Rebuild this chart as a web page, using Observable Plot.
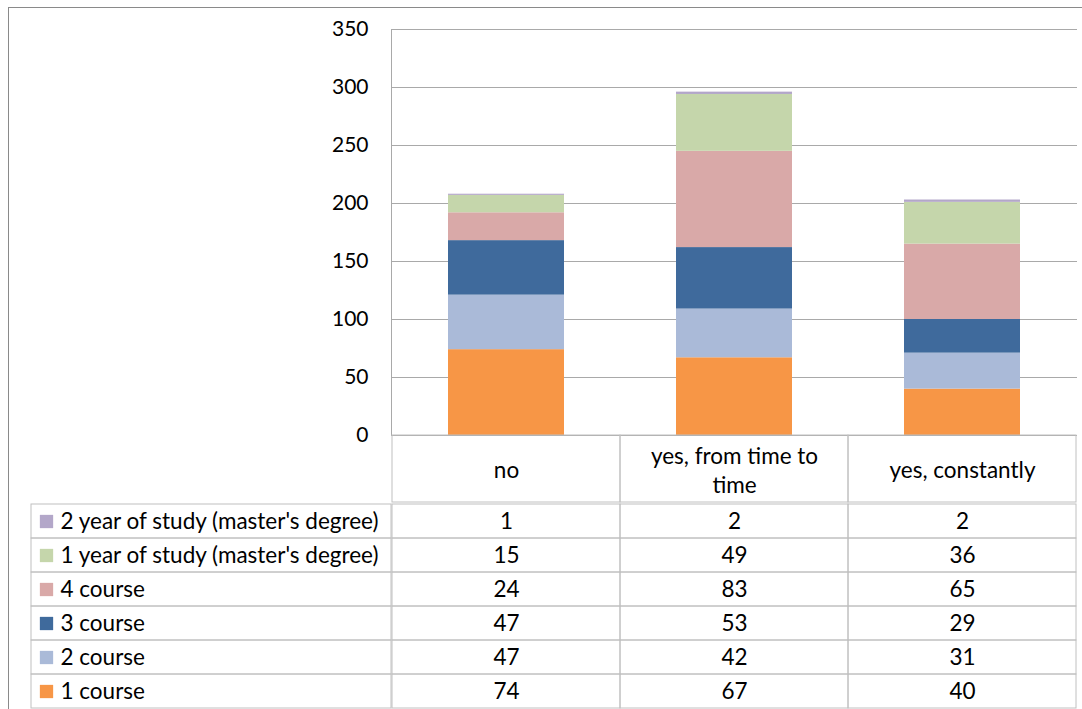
<!DOCTYPE html>
<html>
<head>
<meta charset="utf-8">
<script src="https://cdn.jsdelivr.net/npm/d3@7"></script>
<script src="https://cdn.jsdelivr.net/npm/@observablehq/plot@0.6"></script>
<style>
  html, body { margin: 0; padding: 0; background: #fff; overflow: hidden; }
  #wrap { position: relative; width: 1082px; height: 709px; overflow: hidden; }
  #border { position: absolute; left: 8px; top: 7px; width: 1200px; height: 900px;
            border: 1px solid #8a8a8a; box-sizing: border-box; pointer-events: none; }
  #wrap svg { display: block; }
</style>
</head>
<body>
<div id="wrap"><div id="border"></div><div id="chart"></div></div>
<script>
// Survey answers, broken down by year of study
const categories = ["no", "yes, from time to time", "yes, constantly"];
const series = [
  "1 course",
  "2 course",
  "3 course",
  "4 course",
  "1 year of study (master's degree)",
  "2 year of study (master's degree)"
];
const course1 = [74, 67, 40];
const course2 = [47, 42, 31];
const course3 = [47, 53, 29];
const course4 = [24, 83, 65];
const master1 = [15, 49, 36];
const master2 = [1, 2, 2];
const palette = ["#f79646", "#aabad8", "#3f6a9c", "#d9a9a8", "#c5d6ab", "#b3a7c9"];
const yTicks = [0, 50, 100, 150, 200, 250, 300, 350];

const seriesValues = [course1, course2, course3, course4, master1, master2];
const records = [];
series.forEach((s, i) => {
  categories.forEach((c, j) => records.push({series: s, category: c, value: seriesValues[i][j]}));
});

// Layout
const W = 1082;
const left = 391, right = 5;
const plotTop = 29, plotBottom = 435, headerH = 67;
const plotH = plotBottom - plotTop;
const plotW = W - left - right;
const legendLeft = 31;
const FONT = "Lato, 'Open Sans', sans-serif";
const textSize = 22.5;
const tickSize = 21;
const gridColor = "#a9a9a9";
const cellColor = "#c0c0c0";

const colorScale = {domain: series, range: palette};

const chart = Plot.plot({
  width: W,
  height: plotBottom + headerH,
  marginTop: plotTop,
  marginRight: right,
  marginBottom: headerH,
  marginLeft: left,
  style: {fontFamily: FONT, fontSize: textSize + "px", color: "#000", background: "transparent", overflow: "visible"},
  x: {domain: categories, padding: 0, axis: null},
  y: {domain: [0, 350], axis: null},
  color: colorScale,
  marks: [
    Plot.gridY(yTicks, {stroke: gridColor, strokeOpacity: 1}),
    Plot.barY(records, {x: "category", y: "value", fill: "series", insetLeft: 56, insetRight: 56}),
    Plot.axisY(yTicks, {tickSize: 0, tickPadding: 23, fontSize: tickSize, label: null, fill: "#000"}),
    Plot.frame({anchor: "left", stroke: gridColor}),
    // header row of the data table
    Plot.cell(categories, {x: d => d, fill: "none", stroke: cellColor, insetTop: plotH, insetBottom: -headerH, insetLeft: 0, insetRight: 0}),
    Plot.text(categories, {x: d => d, text: d => d, frameAnchor: "bottom", dy: headerH / 2, lineWidth: 9, lineHeight: 1.3, lineAnchor: "middle", fontSize: textSize, fill: "#000"})
  ]
});

const rowOrder = series.slice().reverse();
const table = Plot.plot({
  width: W,
  height: 709 - plotBottom - headerH,
  marginTop: 0,
  marginRight: right,
  marginBottom: 0,
  marginLeft: left,
  style: {fontFamily: FONT, fontSize: textSize + "px", color: "#000", background: "transparent", overflow: "visible"},
  x: {domain: categories, padding: 0, axis: null},
  y: {domain: rowOrder, padding: 0, axis: null},
  color: colorScale,
  marks: [
    // legend column
    Plot.cell(rowOrder, {y: d => d, fill: "none", stroke: cellColor, insetLeft: -(left - legendLeft), insetRight: plotW}),
    // value cells
    Plot.cell(records, {x: "category", y: "series", fill: "none", stroke: cellColor, inset: 0}),
    Plot.dot(rowOrder, {y: d => d, frameAnchor: "left", dx: -345, symbol: "square", r: 7.5, fill: d => d}),
    Plot.text(rowOrder, {y: d => d, text: d => d, frameAnchor: "left", dx: -331, textAnchor: "start", fontSize: textSize, fill: "#000"}),
    Plot.text(records, {x: "category", y: "series", text: d => String(d.value), fontSize: textSize, fill: "#000"})
  ]
});

const host = document.getElementById("chart");
host.appendChild(chart);
host.appendChild(table);
</script>
</body>
</html>
